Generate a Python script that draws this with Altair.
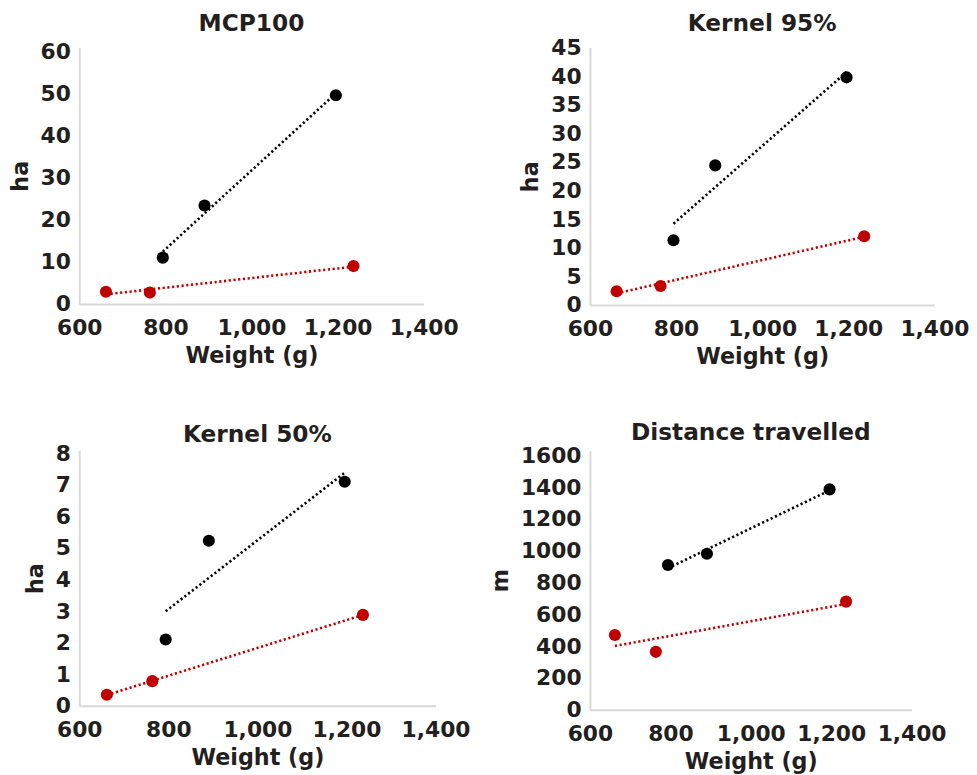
import altair as alt
import pandas as pd

# ---- data ----
# body weights (g) of the black and red animals, same in every panel
black_w = [794, 891, 1196]
red_w = [662, 764, 1237]

mcp_black = [11.0, 23.4, 49.6]
mcp_red = [2.9, 2.7, 9.0]

k95_black = [11.3, 24.4, 39.8]
k95_red = [2.4, 3.3, 12.0]

k50_black = [2.1, 5.23, 7.1]
k50_red = [0.35, 0.78, 2.88]

dist_black = [910, 981, 1386]
dist_red = [470, 364, 680]

x_ticks = [600, 800, 1000, 1200, 1400]

FONT = "DejaVu Sans"
TXT = "#231f20"
AX = "#d9d9d9"
groups = ["black", "red"]
colors = ["#000000", "#c00000"]


def panel(title, by, ry, ytitle, ymax, ytop, ystep, w, h, toff):
    df = pd.DataFrame({
        "w": black_w + red_w,
        "v": by + ry,
        "g": ["black"] * len(black_w) + ["red"] * len(red_w),
    })
    base = alt.Chart(df)
    xenc = alt.X("w:Q", scale=alt.Scale(domain=[600, 1400], nice=False),
                 axis=alt.Axis(values=x_ticks, format=",.0f", title="Weight (g)",
                               labelPadding=14, titlePadding=6, labelOverlap=False,
                               labelFlush=False))
    yenc = alt.Y("v:Q", scale=alt.Scale(domain=[0, ytop], nice=False),
                 axis=alt.Axis(values=list(range(0, int(ymax) + 1, ystep)), format="d",
                               title=ytitle, labelPadding=9, titlePadding=8,
                               labelOverlap=False, labelFlush=False))
    cenc = alt.Color("g:N", scale=alt.Scale(domain=groups, range=colors), legend=None)
    pts = base.mark_circle(size=150, opacity=1).encode(x=xenc, y=yenc, color=cenc)
    lines = base.transform_regression("w", "v", groupby=["g"]).mark_line(
        strokeDash=[2.2, 2.6], strokeWidth=2.6
    ).encode(x=xenc, y=yenc, color=cenc)
    return alt.layer(lines, pts).properties(
        width=w, height=h,
        title=alt.TitleParams(title, offset=toff)
    )


p1 = panel("MCP100", mcp_black, mcp_red, "ha", 60, 60 * 259 / 255, 10, 348, 259, 5)
p2 = panel("Kernel 95%", k95_black, k95_red, "ha", 45, 45, 5, 348, 260, 1)
p3 = panel("Kernel 50%", k50_black, k50_red, "ha", 8, 8 * 258 / 255, 1, 360, 258, -4)
p4 = panel("Distance travelled", dist_black, dist_red, "m", 1600, 1600 * 262 / 257, 200, 325, 262, 0)

col1 = alt.vconcat(p1, p3, spacing=56)
col2 = alt.vconcat(p2, p4, spacing=53)

chart = alt.hconcat(col1, col2, spacing=19).properties(
    padding={"left": 1, "top": 0, "right": 0, "bottom": 0}
).configure_view(stroke=None).configure_axis(
    labelFont=FONT, titleFont=FONT, labelFontWeight="bold", titleFontWeight="bold",
    labelFontSize=22, titleFontSize=22.5, labelColor=TXT, titleColor=TXT,
    domainColor=AX, domainWidth=2, ticks=False, grid=False
).configure_title(
    font=FONT, fontSize=23.5, fontWeight="bold", color=TXT, anchor="middle"
)

chart.save("out.html", embed_options={"renderer": "svg", "actions": False})
